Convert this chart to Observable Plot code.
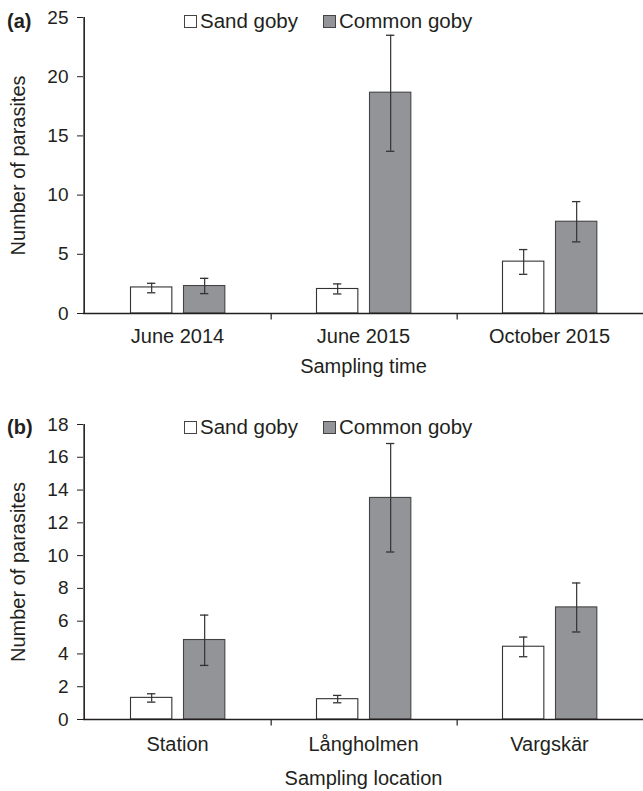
<!DOCTYPE html>
<html><head><meta charset="utf-8">
<script src="https://cdn.jsdelivr.net/npm/d3@7"></script>
<script src="https://cdn.jsdelivr.net/npm/@observablehq/plot@0.6"></script>
<style>
body{margin:0;background:#fff;font-family:"Liberation Sans",Arial,sans-serif;color:#231f20}
.panel{position:relative;width:643px}
.panel svg{display:block}
.lab{position:absolute;left:7px;font-weight:bold;font-size:20px;line-height:20px}
.legend{position:absolute;left:184px;font-size:20.5px;line-height:22px;display:flex;align-items:center;white-space:nowrap}
.item{display:flex;align-items:center;margin-right:25px}
.sw{display:inline-block;width:11px;height:11px;border:1px solid #444;margin-right:3px}
</style></head><body>
<div id="a" class="panel"></div>
<div id="b" class="panel"></div>
<script>
const species = ["Sand goby", "Common goby"];
const speciesFill = ["#ffffff", "#939497"];

// Panel (a): sampling time
const timeCats = ["June 2014", "June 2015", "October 2015"];
const timeSand = [2.2, 2.07, 4.38];
const timeSandLo = [1.75, 1.65, 3.31];
const timeSandHi = [2.55, 2.5, 5.4];
const timeCommon = [2.32, 18.65, 7.75];
const timeCommonLo = [1.68, 13.7, 6.05];
const timeCommonHi = [2.97, 23.5, 9.45];
const timeTicks = [0, 5, 10, 15, 20, 25];

// Panel (b): sampling location
const locCats = ["Station", "Långholmen", "Vargskär"];
const locSand = [1.32, 1.24, 4.44];
const locSandLo = [1.06, 1.02, 3.83];
const locSandHi = [1.57, 1.47, 5.03];
const locCommon = [4.85, 13.52, 6.84];
const locCommonLo = [3.3, 10.22, 5.34];
const locCommonHi = [6.37, 16.84, 8.33];
const locTicks = [0, 2, 4, 6, 8, 10, 12, 14, 16, 18];

const W = 643, ML = 83, MR = 0;
const BW = (W - ML - MR) / 3;
// bar slots within each category band (pixels from band start)
const slots = {"Sand goby": [46.5, 88.5], "Common goby": [99.5, 141.5]};
const ink = "#231f20";

function rowsOf(cats, vals, lo, hi, sp) {
  return cats.map((c, i) => ({cat: c, species: sp, value: vals[i], lo: lo[i], hi: hi[i]}));
}

function panel(el, cfg) {
  const marks = [];
  species.forEach((sp, k) => {
    const rows = cfg.rows[k];
    const [a, b] = slots[sp];
    const c = (a + b) / 2;
    marks.push(Plot.barY(rows, {x: "cat", y: "value", fill: speciesFill[k], stroke: k ? "#444" : "#333", strokeWidth: 1.1, insetLeft: a, insetRight: BW - b}));
    marks.push(Plot.ruleX(rows, {x: "cat", y1: "lo", y2: "hi", dx: c - BW / 2, stroke: "#333", strokeWidth: 1.2}));
    marks.push(Plot.tickY(rows, {x: "cat", y: "lo", insetLeft: c - 4.5, insetRight: BW - c - 4.5, stroke: "#333", strokeWidth: 1.3}));
    marks.push(Plot.tickY(rows, {x: "cat", y: "hi", insetLeft: c - 4.5, insetRight: BW - c - 4.5, stroke: "#333", strokeWidth: 1.3}));
  });
  const yMax = cfg.ticks[cfg.ticks.length - 1];
  marks.push(
    // y axis line
    Plot.ruleX([cfg.cats[0]], {x: d => d, y1: 0, y2: yMax, dx: -BW / 2, stroke: ink, strokeWidth: 1.6}),
    // category boundary ticks
    Plot.ruleX(cfg.cats.slice(1), {x: d => d, y1: 0, y2: 0, dx: -BW / 2 + 1, insetBottom: -6.5, stroke: ink, strokeWidth: 1.2}),
    Plot.ruleY([0], {stroke: ink, strokeWidth: 1.7}),
    Plot.axisY({ticks: cfg.ticks, tickSize: 6, tickPadding: 9, fontSize: 19, label: null, tickFormat: d => String(d)}),
    Plot.axisX({tickSize: 0, tickPadding: cfg.xPad, fontSize: 20, label: null}),
    Plot.text([cfg.xLabel], {frameAnchor: "bottom", textAnchor: "middle", lineAnchor: "middle", dy: cfg.xTitleDy, fontSize: 20, fill: ink}),
    Plot.text([cfg.yLabel], {frameAnchor: "left", textAnchor: "middle", lineAnchor: "middle", rotate: -90, dx: -65, fontSize: 20, fill: ink})
  );
  const svg = Plot.plot({
    width: W, height: cfg.height,
    marginLeft: ML, marginRight: MR, marginTop: cfg.mt, marginBottom: cfg.mb,
    style: {fontFamily: '"Liberation Sans", Arial, sans-serif', color: ink, background: "#fff", overflow: "visible"},
    x: {type: "band", domain: cfg.cats, padding: 0},
    y: {domain: [0, yMax]},
    marks
  });
  el.style.height = cfg.height + "px";
  el.appendChild(svg);
  const lab = document.createElement("div");
  lab.className = "lab"; lab.textContent = cfg.tag; lab.style.top = (cfg.legendY - 10) + "px";
  el.appendChild(lab);
  const lg = document.createElement("div");
  lg.className = "legend"; lg.style.top = (cfg.legendY - 11) + "px";
  species.forEach((sp, k) => {
    const it = document.createElement("span"); it.className = "item";
    const sw = document.createElement("span"); sw.className = "sw"; sw.style.background = speciesFill[k];
    it.appendChild(sw); it.appendChild(document.createTextNode(sp));
    lg.appendChild(it);
  });
  el.appendChild(lg);
}

panel(document.getElementById("a"), {
  cats: timeCats, ticks: timeTicks, tag: "(a)",
  rows: [rowsOf(timeCats, timeSand, timeSandLo, timeSandHi, species[0]), rowsOf(timeCats, timeCommon, timeCommonLo, timeCommonHi, species[1])],
  height: 400, mt: 17, mb: 87, xPad: 15, xTitleDy: 53, legendY: 21,
  xLabel: "Sampling time", yLabel: "Number of parasites"
});
panel(document.getElementById("b"), {
  cats: locCats, ticks: locTicks, tag: "(b)",
  rows: [rowsOf(locCats, locSand, locSandLo, locSandHi, species[0]), rowsOf(locCats, locCommon, locCommonLo, locCommonHi, species[1])],
  height: 391, mt: 24, mb: 72, xPad: 17, xTitleDy: 59, legendY: 27,
  xLabel: "Sampling location", yLabel: "Number of parasites"
});
</script>
</body></html>
